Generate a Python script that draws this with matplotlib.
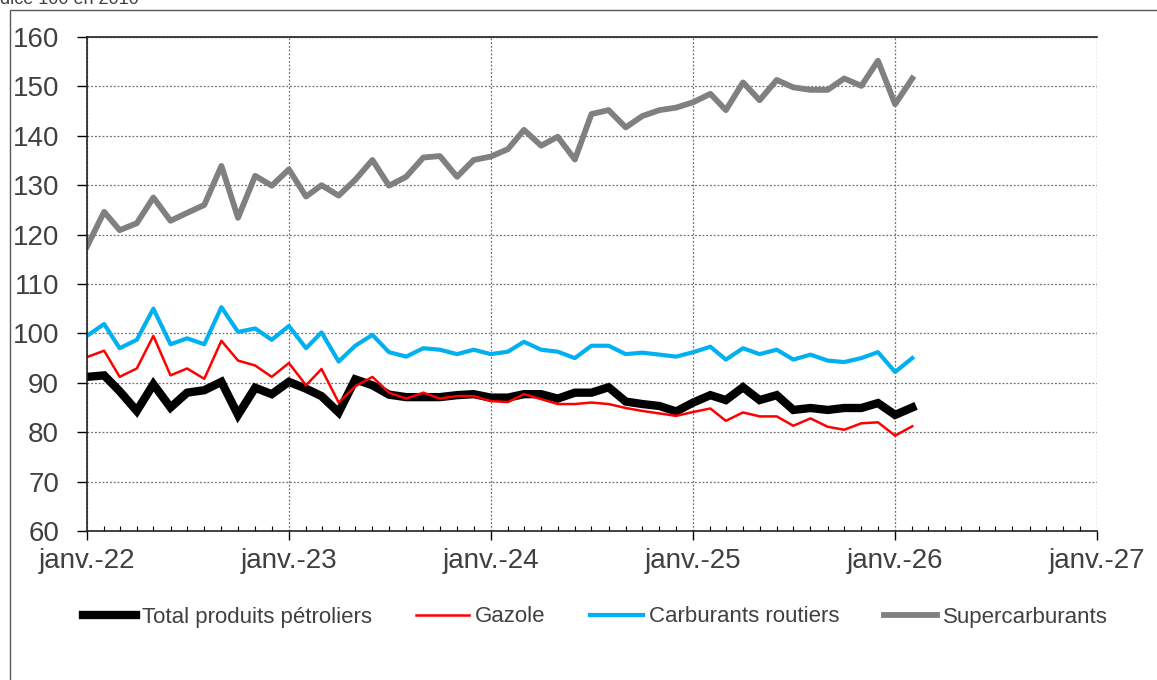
import matplotlib
matplotlib.use("Agg")
import matplotlib.pyplot as plt
import matplotlib.dates as mdates
import pandas as pd
from matplotlib.patches import Rectangle

plt.rcParams["font.family"] = ["Liberation Sans", "DejaVu Sans"]

months = pd.date_range("2022-01-01", periods=50, freq="MS")

total = [91.2, 91.5, 88.3, 84.3, 89.7, 85.0, 88.0, 88.5, 90.2, 83.5,
         89.0, 87.7, 90.2, 88.8, 87.3, 84.0, 90.7, 89.5, 87.6, 87.1,
         87.1, 87.1, 87.5, 87.7, 87.0, 87.0, 87.7, 87.7, 86.8, 88.0,
         88.0, 89.1, 86.2, 85.7, 85.3, 84.2, 86.0, 87.5, 86.5, 89.1,
         86.5, 87.5, 84.5, 84.9, 84.5, 84.9, 84.9, 85.9, 83.5, 85.0]

gazole = [95.2, 96.5, 91.2, 92.9, 99.5, 91.5, 92.9, 90.8, 98.5, 94.5,
          93.5, 91.2, 94.0, 89.5, 92.8, 86.0, 89.3, 91.2, 88.0, 86.8,
          88.0, 86.8, 87.3, 87.3, 86.3, 86.1, 87.7, 86.7, 85.7, 85.7,
          86.0, 85.7, 84.9, 84.3, 83.8, 83.3, 84.1, 84.8, 82.3, 84.0,
          83.2, 83.2, 81.3, 82.8, 81.1, 80.5, 81.8, 82.0, 79.3, 81.2]

routiers = [99.5, 101.9, 97.0, 98.7, 105.0, 97.8, 99.0, 97.8, 105.3, 100.3,
            101.0, 98.7, 101.5, 97.0, 100.2, 94.3, 97.5, 99.7, 96.2, 95.3,
            97.0, 96.7, 95.8, 96.7, 95.8, 96.3, 98.3, 96.7, 96.3, 95.0,
            97.5, 97.5, 95.8, 96.1, 95.7, 95.3, 96.2, 97.3, 94.7, 97.0,
            95.8, 96.7, 94.7, 95.7, 94.5, 94.2, 95.0, 96.2, 92.2, 95.0]

super_ = [117.6, 124.6, 120.9, 122.3, 127.5, 122.8, 124.4, 126.0, 133.9, 123.4,
          131.9, 129.9, 133.2, 127.7, 130.0, 127.9, 131.1, 135.1, 129.9, 131.7,
          135.6, 135.9, 131.7, 135.1, 135.8, 137.3, 141.2, 138.0, 139.8, 135.2,
          144.4, 145.2, 141.7, 144.0, 145.2, 145.7, 146.8, 148.5, 145.2, 150.8,
          147.2, 151.3, 149.8, 149.3, 149.3, 151.6, 150.1, 155.2, 146.4, 151.6]

years = pd.date_range("2022-01-01", "2027-01-01", freq="YS")
year_labels = ["janv.-22", "janv.-23", "janv.-24", "janv.-25", "janv.-26", "janv.-27"]
text_color = "#404040"

fig = plt.figure(figsize=(11.57, 6.8), dpi=100)
ax = fig.add_axes([87 / 1157, 1 - 531 / 680, 1010 / 1157, 494 / 680])

ax.plot(months, total, color="black", lw=6, solid_joinstyle="miter", label="Total produits pétroliers")
ax.plot(months, gazole, color="#FF0000", lw=1.8, label="Gazole")
ax.plot(months, routiers, color="#00B0F0", lw=3, label="Carburants routiers")
ax.plot(months, super_, color="#808080", lw=4.2, label="Supercarburants")

ax.set_xlim(years[0], years[-1])
ax.set_ylim(60, 160)
ax.set_yticks(range(60, 161, 10))
ax.set_xticks(years)
ax.set_xticklabels(year_labels)
ax.xaxis.set_minor_locator(mdates.MonthLocator())

ax.grid(True, which="major", color="#707070", ls=(0, (1.5, 1.5)), lw=0.9)
ax.tick_params(axis="y", which="major", direction="out", length=7, width=1,
               pad=13, labelsize=20, labelcolor=text_color)
ax.tick_params(axis="x", which="major", direction="out", length=6.5, width=1,
               pad=5.5, labelsize=20, labelcolor=text_color)
ax.tick_params(axis="x", which="minor", direction="in", length=3.5, width=0.8)

for side in ["left", "bottom", "top"]:
    ax.spines[side].set_color("#222222")
    ax.spines[side].set_linewidth(1.2)
ax.spines["right"].set_visible(False)

handles, labels = ax.get_legend_handles_labels()
fig.legend(handles, labels, loc="center", bbox_to_anchor=(595 / 1157, 1 - 617 / 680),
           ncol=4, frameon=False, fontsize=16, handlelength=2.4, handletextpad=0.25,
           columnspacing=2.0, labelcolor=text_color)

# titre coupé en haut, comme sur l'original
fig.text(-15 / 1157, 1 - 4 / 680, "Indice 100 en 2010", fontsize=13,
         color=text_color, ha="left", va="baseline")

frame = Rectangle((10 / 1157, -0.1), 1.2, 1 - 10 / 680 + 0.1, transform=fig.transFigure,
                  fill=False, edgecolor="#595959", lw=1, clip_on=False)
fig.patches.append(frame)

fig.savefig("out.png", dpi=100)
